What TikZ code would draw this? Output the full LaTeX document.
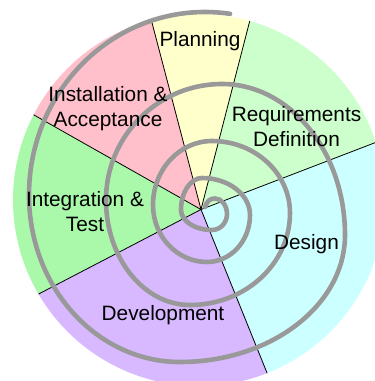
\documentclass[tikz,border=0pt]{standalone}
\usepackage{fontspec}
\setmainfont{Liberation Sans}
\definecolor{cplan}{HTML}{FFFFCC}
\definecolor{creq}{HTML}{CCFFCC}
\definecolor{cdes}{HTML}{CCFFFF}
\definecolor{cdev}{HTML}{D8B8FF}
\definecolor{cint}{HTML}{AAF9AA}
\definecolor{cins}{HTML}{FFC0CB}
\definecolor{spiralgray}{HTML}{999999}
\begin{document}
\begin{tikzpicture}[x=1pt,y=1pt,
  lbl/.style={font=\fontsize{20.8}{25}\selectfont, anchor=base, inner sep=0pt},
  divider/.style={draw=black, line width=0.8pt},
  spiralline/.style={draw=spiralgray, line width=4.6pt, line cap=round}]
\useasboundingbox (0,0) rectangle (375,381);
\fill[white] (0,0) rectangle (375,381);
\coordinate (apex) at (201,171.5);
\coordinate (ctr) at (199,181);
\begin{scope}
  \clip (0,0) rectangle (375,381);
  \clip (ctr) circle[radius=186pt];
  \fill[cplan] (apex) -- +(75.5:400) -- +(104.7:400) -- cycle;
  \fill[creq]  (apex) -- +(21:400) -- +(75.5:400) -- cycle;
  \fill[cdes]  (apex) -- +(-68:400) -- +(21:400) -- cycle;
  \fill[cdev]  (apex) -- +(207.5:400) -- +(292:400) -- cycle;
  \fill[cint]  (apex) -- +(150.5:400) -- +(207.5:400) -- cycle;
  \fill[cins]  (apex) -- +(104.7:400) -- +(150.5:400) -- cycle;
  \draw[divider] (apex) -- +(75.5:400);
  \draw[divider] (apex) -- +(104.7:400);
  \draw[divider] (apex) -- +(21:400);
  \draw[divider] (apex) -- +(-68:400);
  \draw[divider] (apex) -- +(207.5:400);
  \draw[divider] (apex) -- +(150.5:400);
\end{scope}
\coordinate (sstart) at (205,174);
\coordinate (stop0) at (215,182.5);
\draw[spiralline] (sstart) .. controls (207,180) and (210,182.5) .. (stop0)
 arc[start angle=90,end angle=0,x radius=12pt,y radius=15.5pt]
 arc[start angle=0,end angle=-90,x radius=15pt,y radius=16pt]
 arc[start angle=-90,end angle=-180,x radius=31pt,y radius=20pt]
 arc[start angle=180,end angle=90,x radius=21pt,y radius=32pt]
 arc[start angle=90,end angle=0,x radius=48pt,y radius=37pt]
 arc[start angle=0,end angle=-90,x radius=43pt,y radius=47pt]
 arc[start angle=-90,end angle=-180,x radius=54pt,y radius=57pt]
 arc[start angle=180,end angle=90,x radius=59pt,y radius=64pt]
 arc[start angle=90,end angle=0,x radius=78pt,y radius=72pt]
 arc[start angle=0,end angle=-90,x radius=100pt,y radius=92pt]
 arc[start angle=-90,end angle=-180,x radius=84pt,y radius=105pt]
 arc[start angle=180,end angle=90,x radius=116pt,y radius=116pt]
 arc[start angle=90,end angle=0,x radius=123pt,y radius=151pt]
 arc[start angle=0,end angle=-90,x radius=165pt,y radius=127pt]
 arc[start angle=-90,end angle=-180,x radius=151pt,y radius=167pt]
 arc[start angle=180,end angle=90,x radius=176pt,y radius=183pt]
 arc[start angle=90,end angle=82,x radius=180pt,y radius=190pt];
\node[lbl] (plan) at (200,334.3) {Planning};
\node[lbl] (ins1) at (108,279.3) {Installation \&};
\node[lbl] (ins2) at (108,254.3) {Acceptance};
\node[lbl] (req1) at (296.5,259.3) {Requirements};
\node[lbl] (req2) at (296.5,234.3) {Definition};
\node[lbl] (int1) at (85,174.3) {Integration \&};
\node[lbl] (int2) at (85,149.3) {Test};
\node[lbl] (des) at (306.5,131.7) {Design};
\node[lbl] (dev) at (163,60) {Development};
\end{tikzpicture}
\end{document}
